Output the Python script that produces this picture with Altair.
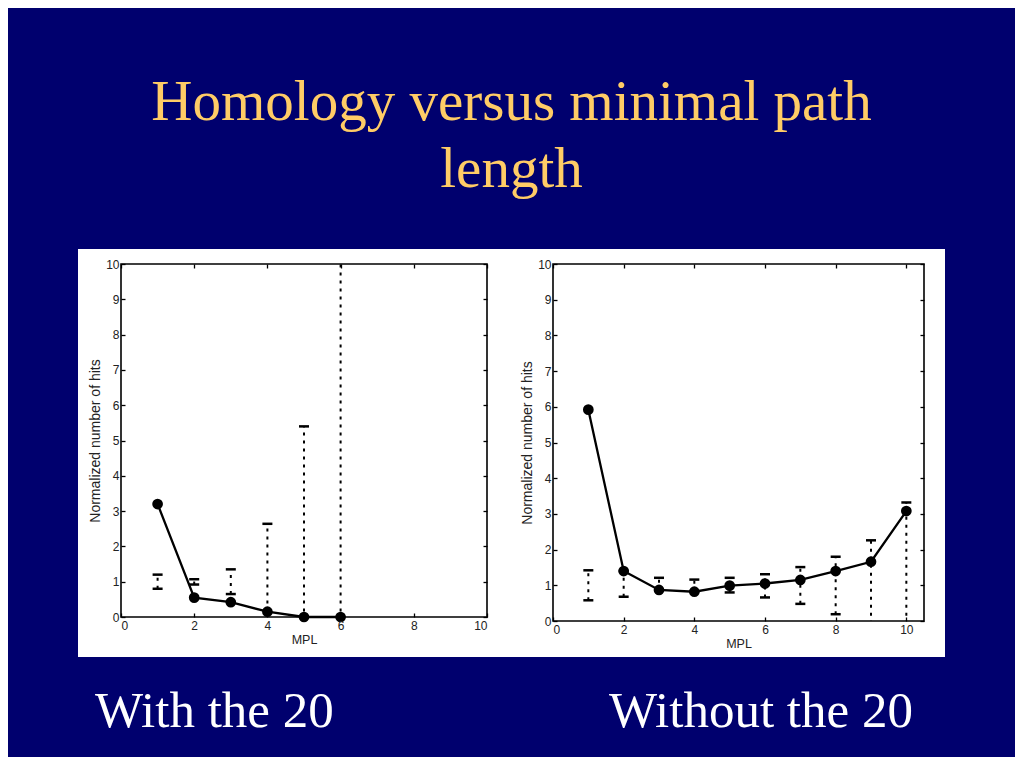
import altair as alt
import pandas as pd

# ---- data ----
mpl_left = [1, 2, 3, 4, 5, 6]
mean_left = [3.2, 0.55, 0.42, 0.15, 0.0, 0.0]
upper_left = [1.20, 1.07, 1.35, 2.64, 5.40, 11.0]
lower_left = [0.80, 0.92, 0.65, -0.3, -0.3, -0.3]

mpl_right = [1, 2, 3, 4, 5, 6, 7, 8, 9, 10]
mean_right = [5.92, 1.40, 0.87, 0.82, 0.99, 1.05, 1.15, 1.40, 1.66, 3.08]
upper_right = [1.42, 1.40, 1.21, 1.16, 1.21, 1.31, 1.51, 1.80, 2.26, 3.32]
lower_right = [0.58, 0.68, 0.85, 0.82, 0.80, 0.66, 0.48, 0.19, -0.3, -0.3]

x_ticks = [0, 2, 4, 6, 8, 10]
y_ticks = [0, 1, 2, 3, 4, 5, 6, 7, 8, 9, 10]

title_lines = ["Homology versus minimal path", "length"]
captions = ["With the 20", "Without the 20"]

LABEL_FONT = "Liberation Sans"
SERIF = "Liberation Serif"
INK = "#222222"


def panel(xs, means, ups, los, xmax, w, h, bg, caption, cap_dx):
    df = pd.DataFrame({"MPL": xs, "mean": means, "upper": ups, "lower": los})
    xsc = alt.Scale(domain=[0, xmax], nice=False, zero=False)
    ysc = alt.Scale(domain=[0, 10], nice=False)
    common = dict(domain=False, tickColor="black", tickSize=4, tickWidth=1.3,
                  offset=-4, zindex=1, grid=False)
    xax = alt.Axis(values=x_ticks, title="MPL", labelFont=LABEL_FONT, labelFontSize=12,
                   labelColor=INK, labelPadding=3, titleFont=LABEL_FONT,
                   titleFontSize=12.5, titleFontWeight="normal", titleColor=INK,
                   titlePadding=2, orient="bottom", **common)
    yax = alt.Axis(values=y_ticks, title="Normalized number of hits", labelFont=LABEL_FONT,
                   labelFontSize=12, labelColor=INK, labelPadding=2,
                   titleFont=LABEL_FONT, titleFontSize=14, titleFontWeight="normal",
                   titleColor=INK, titlePadding=3, orient="left", **common)
    xtop = alt.Axis(values=x_ticks, labels=False, title=None, orient="top", **common)
    yright = alt.Axis(values=y_ticks, labels=False, title=None, orient="right", **common)

    base = alt.Chart(df)
    one = alt.Data(values=[{}])
    bgrect = alt.Chart(one).mark_rect(color="white").encode(
        x=alt.value(bg[0]), x2=alt.value(bg[1]), y=alt.value(bg[2]), y2=alt.value(bg[3]))
    rules = base.mark_rule(strokeDash=[3, 5], strokeWidth=2, color="black", clip=True).encode(
        x=alt.X("MPL:Q", scale=xsc, axis=xax),
        y=alt.Y("lower:Q", scale=ysc, axis=yax),
        y2="upper:Q")
    cap_up = base.mark_tick(orient="horizontal", size=10, thickness=2.5, color="black",
                            opacity=1, clip=True).encode(
        x=alt.X("MPL:Q", scale=xsc, axis=None), y=alt.Y("upper:Q", scale=ysc, axis=None))
    cap_lo = base.mark_tick(orient="horizontal", size=10, thickness=2.5, color="black",
                            opacity=1, clip=True).encode(
        x=alt.X("MPL:Q", scale=xsc, axis=None), y=alt.Y("lower:Q", scale=ysc, axis=None))
    line = base.mark_line(color="black", strokeWidth=2.3).encode(
        x=alt.X("MPL:Q", scale=xsc, axis=xtop), y=alt.Y("mean:Q", scale=ysc, axis=yright))
    pts = base.mark_circle(size=115, color="black", opacity=1).encode(
        x=alt.X("MPL:Q", scale=xsc, axis=None), y=alt.Y("mean:Q", scale=ysc, axis=None))
    frame = alt.Chart(one).mark_rect(fillOpacity=0, stroke="black", strokeWidth=1.6).encode(
        x=alt.value(0), x2=alt.value(w), y=alt.value(0), y2=alt.value(h))

    return alt.layer(bgrect, rules, cap_up, cap_lo, line, pts, frame).resolve_axis(
        x="independent", y="independent").properties(
        width=w, height=h,
        title=alt.Title(caption, orient="bottom", anchor="start", frame="group", dx=cap_dx,
                        offset=30, fontSize=51, font=SERIF, fontWeight="normal",
                        color="white"))


left = panel(mpl_left, mean_left, upper_left, lower_left, 10, 366, 353,
             (-43, 399, -15, 393), captions[0], -26)
right = panel(mpl_right, mean_right, upper_right, lower_right, 10.5, 371, 357,
              (-33, 392, -15, 393), captions[1], 56)

chart = alt.HConcatChart(hconcat=[left, right], spacing=66, bounds="flush").properties(
    title=alt.Title(title_lines, fontSize=57, font=SERIF, fontWeight="normal",
                    color="#FFCC66", lineHeight=67, anchor="middle", offset=50),
    padding={"left": 70, "top": 66, "right": 70, "bottom": 20},
    background="#00006e",
).configure_view(stroke=None)

chart.save("out.html", embed_options={"renderer": "svg", "actions": False})
